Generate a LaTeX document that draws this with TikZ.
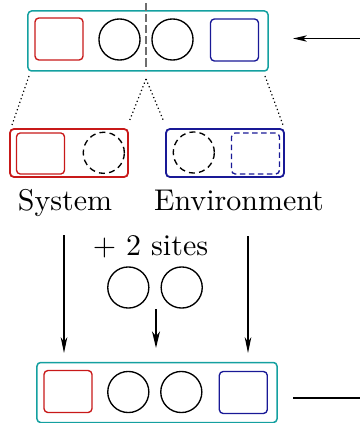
\documentclass[tikz,border=0pt]{standalone}
\usetikzlibrary{arrows.meta}
\definecolor{fteal}{RGB}{20,160,160}
\definecolor{fred}{RGB}{200,25,25}
\definecolor{fblue}{RGB}{25,25,150}
\definecolor{fgray}{RGB}{110,110,110}
\begin{document}
\begin{tikzpicture}[x=0.33333pt,y=-0.33333pt,
  frame/.style={draw=fteal, line width=0.5pt, rounded corners=1.2pt, minimum width=80pt, minimum height=20pt, inner sep=0pt},
  sq/.style={draw, rounded corners=1.3pt, minimum width=16pt, minimum height=14pt, inner sep=0pt, line width=0.45pt},
  site/.style={draw, circle, minimum size=13.7pt, inner sep=0pt, line width=0.45pt},
  half/.style={draw, line width=0.6pt, rounded corners=1.3pt, minimum width=39.33pt, minimum height=16pt, inner sep=0pt},
  dsite/.style={site, dash pattern=on 2pt off 1.4pt},
  guide/.style={line width=0.4pt, dash pattern=on 0.4pt off 0.9pt},
  downarrow/.style={-{Stealth[length=5.3pt,width=2.2pt,inset=1.6pt]}, line width=0.4pt},
  label/.style={anchor=base, inner sep=0pt, font=\fontsize{10}{12}\selectfont}
]
\useasboundingbox (0,0) rectangle (359,423);

% top chain
\node[frame] (top) at (148,41) {};
\node[sq, draw=fred] (t1) at (59,39) {};
\node[site] (t2) at (119.5,39.5) {};
\node[site] (t3) at (172.5,39.5) {};
\node[sq, draw=fblue] (t4) at (234.5,40) {};
\coordinate (cuttop) at (146,3);
\coordinate (cutbot) at (146,71);
\draw[fgray, line width=0.7pt, dash pattern=on 2.7pt off 1pt] (cuttop) -- (cutbot);
\coordinate (inR) at (362,38.5);
\coordinate (inL) at (293,38.5);
\draw[-{Stealth[length=4.6pt,width=2.1pt,inset=1.2pt]}, line width=0.45pt] (inR) -- (inL);

% system / environment
\node[half, draw=fred] (sys) at (69,153) {};
\node[sq, draw=fred, minimum height=13.7pt] (s1) at (40.5,153.5) {};
\node[dsite] (s2) at (103.8,152.8) {};
\node[half, draw=fblue] (env) at (225,153) {};
\node[dsite] (e1) at (193.8,152.5) {};
\node[sq, draw=fblue, minimum height=13.7pt, dash pattern=on 1.8pt off 1.2pt] (e2) at (255.5,153.5) {};

\coordinate (g1a) at (29,76);  \coordinate (g1b) at (12,125);
\coordinate (g2a) at (146,79); \coordinate (g2b) at (129,122);
\coordinate (g3b) at (164,122);
\coordinate (g4a) at (265,76); \coordinate (g4b) at (283,125);
\draw[guide] (g1a) -- (g1b);
\draw[guide] (g2a) -- (g2b);
\draw[guide] (g2a) -- (g3b);
\draw[guide] (g4a) -- (g4b);

\node[label] (syslab) at (65,210) {System};
\node[label] (envlab) at (239,210) {Environment};

% new sites
\node[label] (plus) at (150.5,255) {+ 2 sites};
\node[site] (n1) at (128.3,287.5) {};
\node[site] (n2) at (181.7,287.5) {};

\coordinate (a1s) at (64,235);  \coordinate (a1e) at (64,353);
\coordinate (a2s) at (156,309); \coordinate (a2e) at (156,348);
\coordinate (a3s) at (248,236); \coordinate (a3e) at (248,353);
\draw[downarrow] (a1s) -- (a1e);
\draw[-{Stealth[length=5.5pt,width=2.6pt,inset=1.6pt]}, line width=0.75pt] (a2s) -- (a2e);
\draw[downarrow] (a3s) -- (a3e);

% bottom chain
\node[frame] (bot) at (157,392.5) {};
\node[sq, draw=fred] (b1) at (68,391.5) {};
\node[site] (b2) at (128.3,392) {};
\node[site] (b3) at (181.3,392) {};
\node[sq, draw=fblue] (b4) at (243.3,392.5) {};
\coordinate (outL) at (293,398);
\coordinate (outR) at (362,398);
\draw[line width=0.45pt] (outL) -- (outR);
\end{tikzpicture}
\end{document}
